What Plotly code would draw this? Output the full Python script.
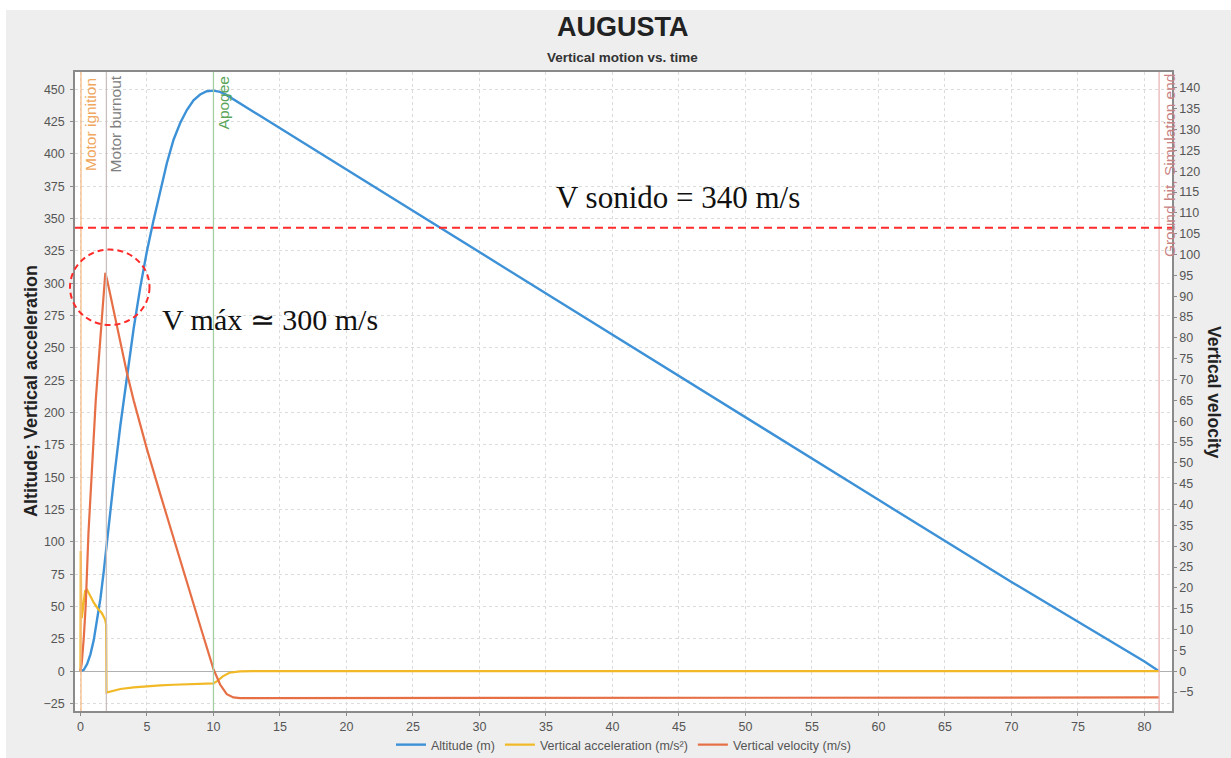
import plotly.graph_objects as go

# ---- Flight data (AUGUSTA, vertical motion) ----
# Altitude (m)
alt_time = [0.0, 0.25, 0.5, 0.75, 1.0, 1.25, 1.5, 1.75, 2.0, 2.5, 3.0, 3.5, 4.0, 4.5, 5.0,
            5.5, 6.0, 6.5, 7.0, 7.5, 8.0, 8.5, 9.0, 9.5, 10.0, 10.5, 11.0, 12.0, 13.5, 20.0,
            30.0, 40.0, 50.0, 60.0, 70.0, 80.0, 81.1]
altitude = [0.0, 1.0, 5.5, 13.0, 24.0, 39.0, 56.0, 77.0, 101.0, 147.0, 190.0, 229.0, 265.0,
            297.0, 325.0, 349.0, 372.0, 393.0, 411.0, 424.0, 434.0, 441.5, 446.0, 448.5,
            449.0, 448.0, 445.5, 439.0, 429.5, 388.0, 324.0, 260.0, 196.0, 132.5, 69.0,
            7.5, 0.0]

# Vertical acceleration (m/s²)
acc_time = [0.0, 0.02, 0.05, 0.1, 0.2, 0.35, 0.5, 0.75, 1.0, 1.3, 1.6, 1.85, 1.93, 1.96,
            2.5, 3.0, 4.0, 5.0, 6.0, 7.0, 8.0, 9.0, 10.0, 10.3, 10.7, 11.2, 12.0, 13.0, 81.1]
acceleration = [0.0, 93.0, 60.0, 41.0, 50.0, 62.0, 63.0, 58.0, 53.0, 48.5, 45.0, 40.0,
                36.0, -16.5, -15.0, -13.8, -12.6, -11.7, -11.0, -10.5, -10.0, -9.7, -9.4,
                -7.5, -4.0, -1.2, -0.2, 0.0, 0.0]

# Vertical velocity (m/s)
vel_time = [0.0, 0.1, 0.25, 0.4, 0.6, 0.9, 1.15, 1.5, 1.75, 1.87, 2.0, 2.5, 3.0, 3.5, 4.0,
            4.5, 5.0, 6.0, 7.0, 8.0, 9.0, 10.0, 10.5, 11.0, 11.5, 12.0, 52.0, 52.8, 53.5,
            54.2, 55.0, 81.1]
velocity = [0.0, 2.0, 8.0, 16.0, 33.0, 52.0, 65.0, 80.0, 91.0, 95.6, 94.0, 86.5, 79.0,
            71.5, 65.0, 59.0, 53.3, 42.5, 31.8, 21.3, 10.9, 0.5, -3.2, -5.5, -6.3, -6.45,
            -6.45, -6.3, -6.4, -6.3, -6.3, -6.3]

# Flight events
event_names = ["Motor ignition", "Motor burnout", "Apogee", "Ground hit, Simulation end"]
event_times = [0.04, 1.95, 10.0, 81.1]
event_line_colors = ["#f6bb86", "#cbbfbf", "#a3cfa3", "#ebb4b4"]
event_text_colors = ["#f0a65c", "#808080", "#5aa55a", "#c98282"]

sound_speed_level = 343.0  # reference line drawn on the left axis

x_range = [-0.41, 82.07]
y_left_range = [-30.8, 463.4]
y_right_range = [-9.55, 143.8]

# plot area in pixels
L, R, T, B = 75, 1172, 72, 711
W, H = 1231, 758


def px(p):
    return (p - L) / (R - L)


def py(p):
    return (B - p) / (B - T)


fig = go.Figure()

fig.add_trace(go.Scatter(x=alt_time, y=altitude, mode="lines", name="Altitude (m)",
                         line=dict(color="#3d91d7", width=2.4), yaxis="y"))
fig.add_trace(go.Scatter(x=acc_time, y=acceleration, mode="lines",
                         name="Vertical acceleration (m/s²)",
                         line=dict(color="#f2b927", width=2.2), yaxis="y"))
fig.add_trace(go.Scatter(x=vel_time, y=velocity, mode="lines",
                         name="Vertical velocity (m/s)",
                         line=dict(color="#e66f46", width=2.2), yaxis="y2"))

shapes = []
annotations = []

# white frame around the gray panel
shapes.append(dict(type="rect", xref="paper", yref="paper", x0=px(0), x1=px(W),
                   y0=py(10), y1=py(0), fillcolor="white", line=dict(width=0), layer="below"))
shapes.append(dict(type="rect", xref="paper", yref="paper", x0=px(0), x1=px(6),
                   y0=py(H), y1=py(0), fillcolor="white", line=dict(width=0), layer="below"))

# event markers
label_centers = [124, 124, 103, 165]
for name, t, lc, tc, yc in zip(event_names, event_times, event_line_colors,
                               event_text_colors, label_centers):
    shapes.append(dict(type="line", xref="x", yref="paper", x0=t, x1=t, y0=0, y1=1,
                       line=dict(color=lc, width=1.3)))
    annotations.append(dict(x=t, y=py(yc), xref="x", yref="paper", text=name,
                            textangle=-90, showarrow=False, xanchor="center",
                            yanchor="middle", xshift=10,
                            font=dict(family="Arial, Liberation Sans", size=15.5, color=tc)))

# speed of sound reference line
shapes.append(dict(type="line", xref="paper", yref="y", x0=0, x1=1,
                   y0=sound_speed_level, y1=sound_speed_level,
                   line=dict(color="#ff2a2a", width=2, dash="8px,5px")))
# circle around the velocity peak
shapes.append(dict(type="circle", xref="paper", yref="paper",
                   x0=px(70), x1=px(149.5), y0=py(325), y1=py(249.5),
                   line=dict(color="#ff2a2a", width=2, dash="6px,4px")))

serif = "Liberation Serif, Times New Roman, serif"
annotations.append(dict(x=px(678), y=py(197), xref="paper", yref="paper",
                        xanchor="center", yanchor="middle",
                        text="V sonido = 340 m/s", showarrow=False,
                        font=dict(family=serif, size=31, color="#111111")))
annotations.append(dict(x=px(270), y=py(319), xref="paper", yref="paper",
                        xanchor="center", yanchor="middle",
                        text="V máx ≃ 300 m/s", showarrow=False,
                        font=dict(family=serif, size=30, color="#111111")))

# titles
sans = "Arial, Liberation Sans"
annotations.append(dict(x=px(623), y=py(27), xref="paper", yref="paper",
                        xanchor="center", yanchor="middle", text="<b>AUGUSTA</b>",
                        showarrow=False, font=dict(family=sans, size=27, color="#222222")))
annotations.append(dict(x=px(622), y=py(57), xref="paper", yref="paper",
                        xanchor="center", yanchor="middle",
                        text="<b>Vertical motion vs. time</b>", textangle=0, showarrow=False,
                        font=dict(family=sans, size=13.5, color="#333333")))
annotations.append(dict(x=px(31), y=py(391), xref="paper", yref="paper",
                        xanchor="center", yanchor="middle",
                        text="<b>Altitude; Vertical acceleration</b>", textangle=-90,
                        showarrow=False, font=dict(family=sans, size=18, color="#222222")))
annotations.append(dict(x=px(1214), y=py(392), xref="paper", yref="paper",
                        xanchor="center", yanchor="middle",
                        text="<b>Vertical velocity</b>", textangle=90, showarrow=False,
                        font=dict(family=sans, size=17.5, color="#222222")))

tick_font = dict(family=sans, size=12.5, color="#555555")

fig.update_layout(
    width=W, height=H,
    margin=dict(l=L, r=W - R, t=T, b=H - B, pad=0, autoexpand=False),
    paper_bgcolor="#eeeeee",
    plot_bgcolor="white",
    showlegend=True,
    legend=dict(orientation="h", x=0.5, xanchor="center", y=py(745), yanchor="middle",
                bgcolor="rgba(0,0,0,0)", font=dict(family=sans, size=12.5, color="#555555"),
                itemwidth=30, tracegroupgap=0),
    xaxis=dict(range=x_range, tickmode="linear", tick0=0, dtick=5, showgrid=True,
               gridcolor="#dcdcdc", griddash="dot", gridwidth=1, zeroline=False,
               showline=True, linecolor="#8a8a8a", linewidth=1.5, mirror=True,
               ticks="outside", ticklen=3, tickcolor="#8a8a8a", tickfont=tick_font),
    yaxis=dict(range=y_left_range, tickmode="linear", tick0=0, dtick=25, showgrid=True,
               gridcolor="#dcdcdc", griddash="dot", gridwidth=1, zeroline=True,
               zerolinecolor="#b0b0b0", zerolinewidth=1.2,
               showline=True, linecolor="#8a8a8a", linewidth=1.5, mirror=True,
               ticks="outside", ticklen=3, tickcolor="#8a8a8a", tickfont=tick_font,
               ticklabelstandoff=3),
    yaxis2=dict(range=y_right_range, overlaying="y", side="right", tickmode="linear",
                tick0=0, dtick=5, showgrid=False, zeroline=False, showline=True,
                linecolor="#8a8a8a", linewidth=1.5, ticks="outside", ticklen=3,
                tickcolor="#8a8a8a", tickfont=tick_font),
    shapes=shapes,
    annotations=annotations,
)

fig.write_html("out.html")
